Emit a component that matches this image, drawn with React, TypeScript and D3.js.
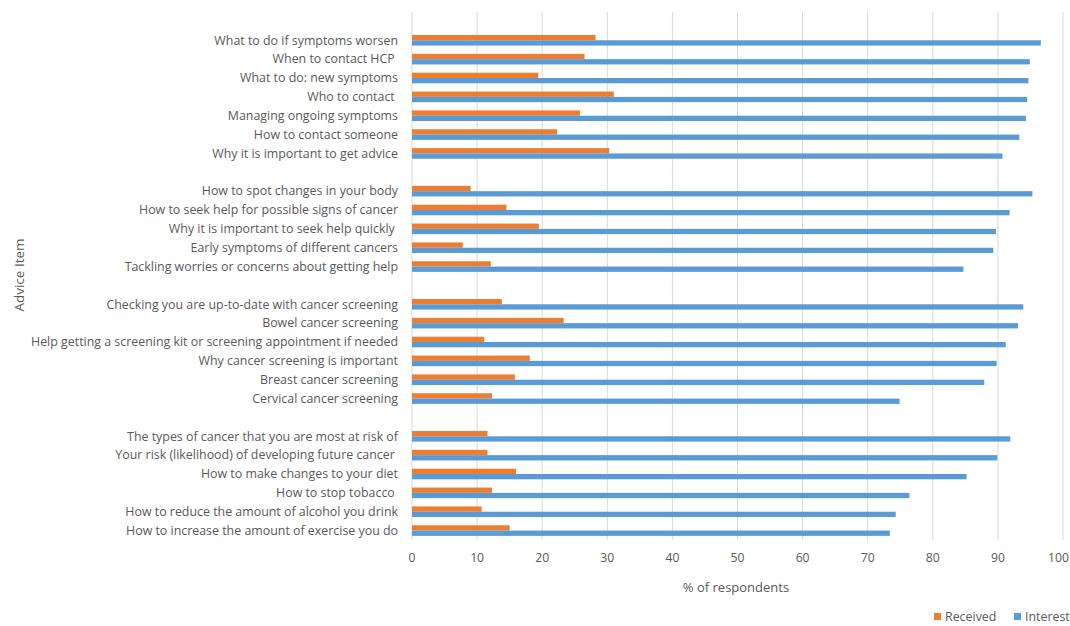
import React from "react";
import * as d3 from "d3";

const categories: string[] = [
  "What to do if symptoms worsen",
  "When to contact HCP ",
  "What to do: new symptoms",
  "Who to contact ",
  "Managing ongoing symptoms",
  "How to contact someone",
  "Why it is important to get advice",
  "",
  "How to spot changes in your body",
  "How to seek help for possible signs of cancer",
  "Why it is important to seek help quickly ",
  "Early symptoms of different cancers",
  "Tackling worries or concerns about getting help",
  "",
  "Checking you are up-to-date with cancer screening",
  "Bowel cancer screening",
  "Help getting a screening kit or screening appointment if needed",
  "Why cancer screening is important",
  "Breast cancer screening",
  "Cervical cancer screening",
  "",
  "The types of cancer that you are most at risk of",
  "Your risk (likelihood) of developing future cancer ",
  "How to make changes to your diet",
  "How to stop tobacco ",
  "How to reduce the amount of alcohol you drink",
  "How to increase the amount of exercise you do",
];

const received: (number | null)[] = [
  28.2, 26.5, 19.4, 31.0, 25.8, 22.3, 30.3,
  null,
  9.0, 14.5, 19.5, 7.8, 12.1,
  null,
  13.8, 23.3, 11.1, 18.1, 15.8, 12.3,
  null,
  11.6, 11.6, 16.0, 12.3, 10.7, 15.0,
];

const interest: (number | null)[] = [
  96.6, 94.9, 94.7, 94.5, 94.3, 93.3, 90.7,
  null,
  95.3, 91.8, 89.7, 89.3, 84.7,
  null,
  93.9, 93.1, 91.2, 89.8, 87.9, 74.9,
  null,
  91.9, 89.9, 85.2, 76.4, 74.3, 73.4,
];

const xTicks: number[] = [0, 10, 20, 30, 40, 50, 60, 70, 80, 90, 100];

const seriesNames = ["Received", "Interest"];
const seriesColors = ["#ED7D31", "#5B9BD5"];

const W = 1070;
const H = 626;
const FONT = "'Open Sans', sans-serif";
const TEXT = "#595959";

export default function App() {
  const left = 412;
  const right = 1063;
  const top = 12;
  const bottom = 540;

  // blank slot at the top, then the categories
  const keys = ["__top", ...categories.map((c, i) => `${i}`)];
  const y = d3.scaleBand<string>().domain(keys).range([top, bottom]).paddingInner(0).paddingOuter(0);
  const x = d3.scaleLinear().domain([0, 100]).range([left, right]);
  const barH = 5.3;

  return (
    <svg width={W} height={H} style={{ position: "absolute", left: 0, top: 0, background: "#fff" }}>
      <rect x={0} y={0} width={W} height={H} fill="#fff" />
      {xTicks.map((t) => (
        <line key={t} x1={x(t)} x2={x(t)} y1={top} y2={bottom} stroke="#d9d9d9" strokeWidth={1} />
      ))}
      {categories.map((c, i) => {
        const yc = (y(`${i}`) as number) + y.bandwidth() / 2;
        const r = received[i];
        const v = interest[i];
        return (
          <g key={i}>
            {r != null && (
              <rect x={x(0)} y={yc - barH} width={x(r) - x(0)} height={barH} fill={seriesColors[0]} />
            )}
            {v != null && (
              <rect x={x(0)} y={yc} width={x(v) - x(0)} height={barH} fill={seriesColors[1]} />
            )}
            {c && (
              <text
                x={398}
                y={yc}
                dy="0.35em"
                textAnchor="end"
                fontFamily={FONT}
                fontSize={12.4}
                fill={TEXT}
                style={{ whiteSpace: "pre" }}
              >
                {c}
              </text>
            )}
          </g>
        );
      })}
      {xTicks.map((t, i) => {
        const last = i === xTicks.length - 1;
        return (
          <text
            key={"l" + t}
            x={last ? W - 1 : x(t)}
            y={558}
            textAnchor={last ? "end" : "middle"}
            dy="0.35em"
            fontFamily={FONT}
            fontSize={12.2}
            fill={TEXT}
          >
            {t}
          </text>
        );
      })}
      <text x={736} y={587} textAnchor="middle" dy="0.35em" fontFamily={FONT} fontSize={13} fill={TEXT}>
        % of respondents
      </text>
      <text
        transform={`translate(19,275) rotate(-90)`}
        textAnchor="middle"
        dy="0.35em"
        fontFamily={FONT}
        fontSize={13.5}
        fill={TEXT}
      >
        Advice Item
      </text>
      {seriesNames.map((s, i) => {
        const lx = i === 0 ? 934 : 1014;
        return (
          <g key={s}>
            <rect x={lx} y={613} width={7} height={7} fill={seriesColors[i]} />
            <text x={lx + 11} y={617} dy="0.35em" fontFamily={FONT} fontSize={12.4} fill={TEXT}>
              {s}
            </text>
          </g>
        );
      })}
    </svg>
  );
}
